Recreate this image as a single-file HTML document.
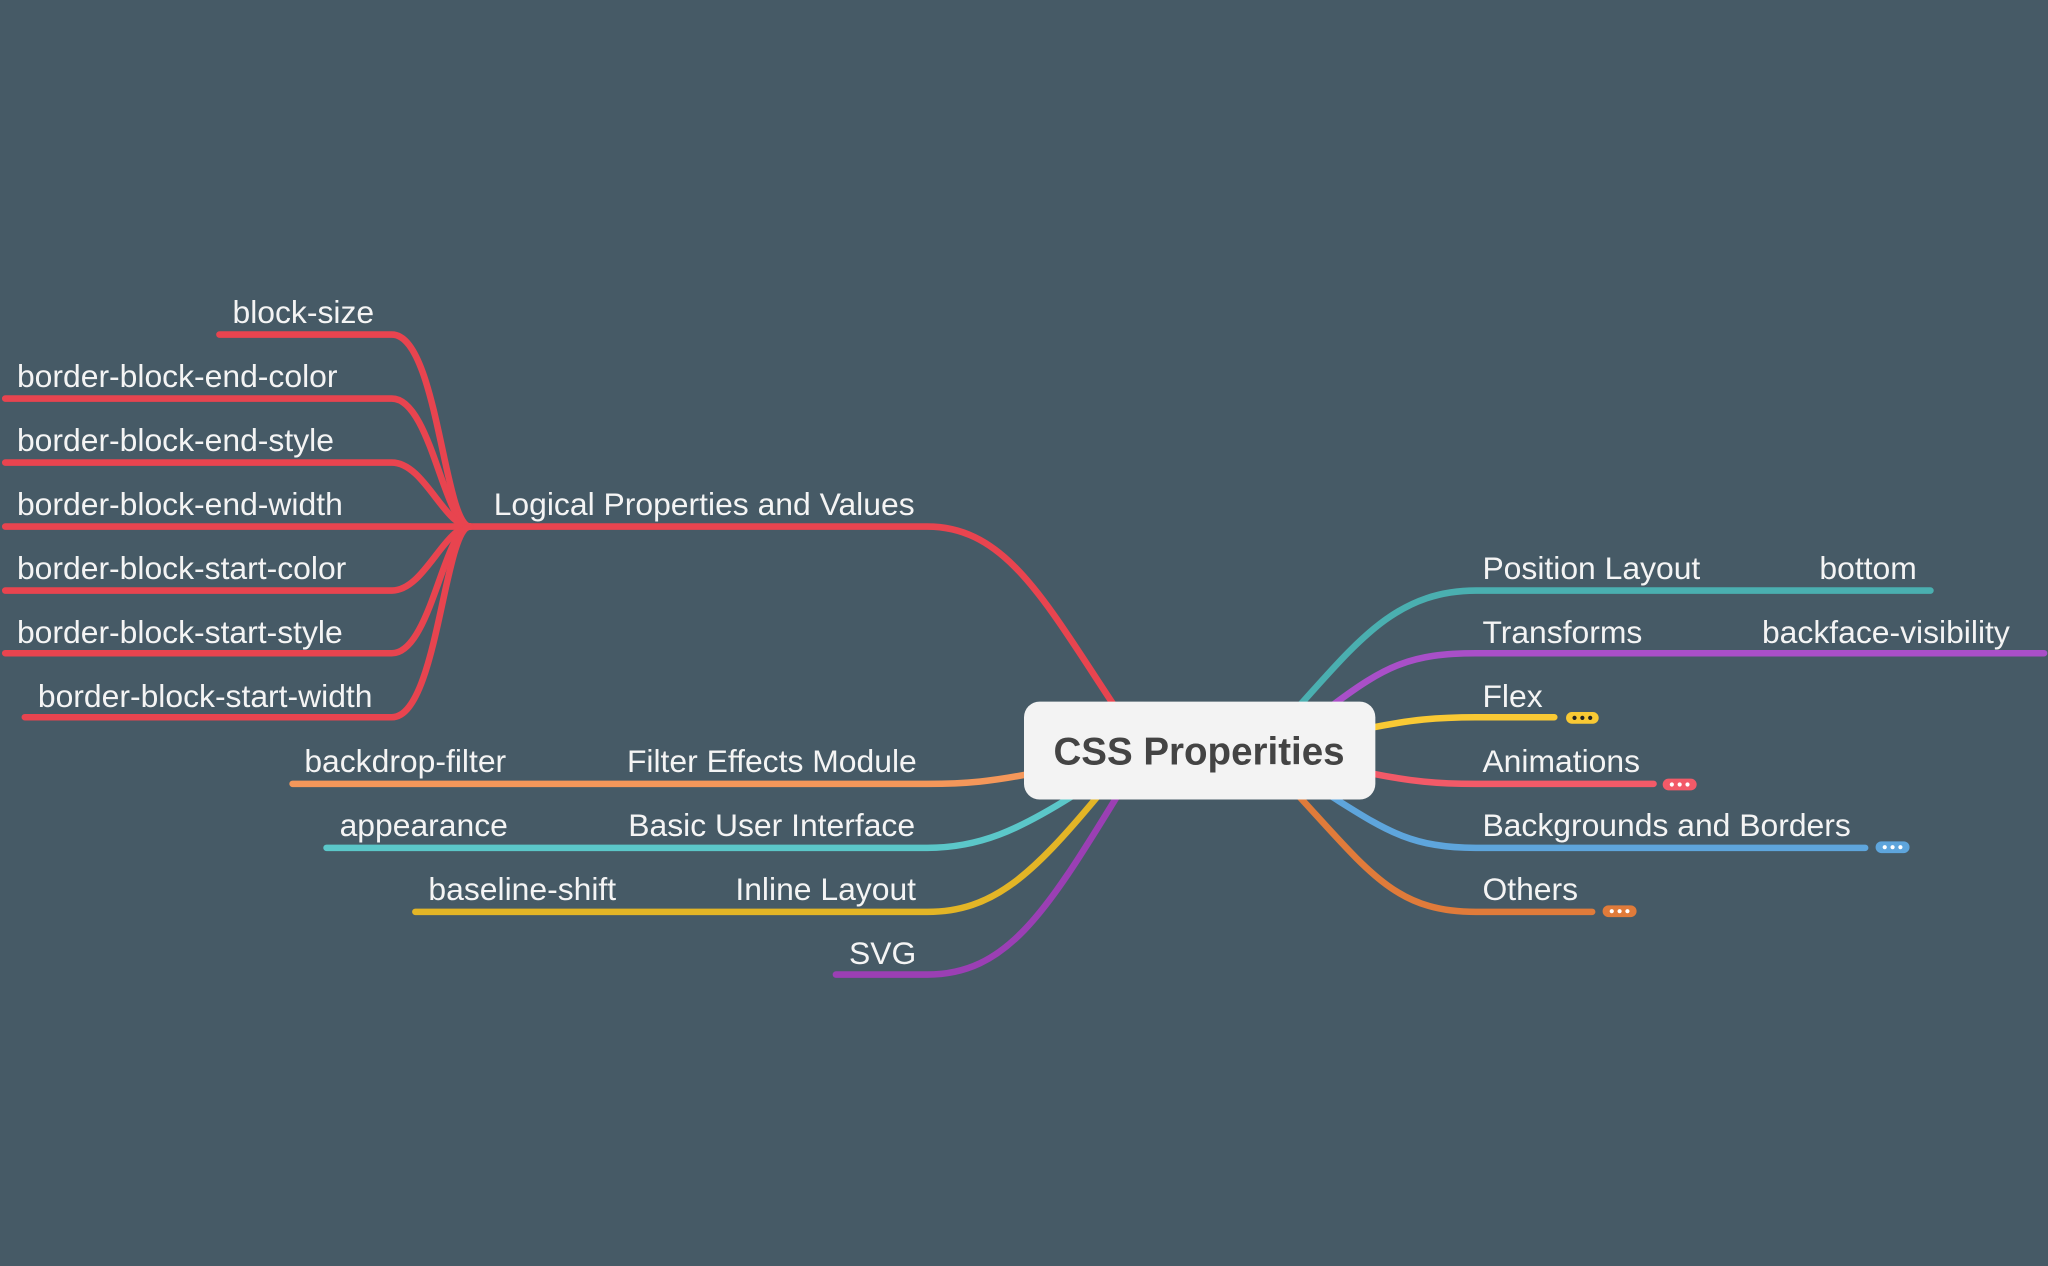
<!DOCTYPE html>
<html><head><meta charset="utf-8"><style>
html,body{margin:0;padding:0;background:#465a66;}
svg{display:block}
text{font-family:"Liberation Sans",Arial,sans-serif;fill:#f4f4f4;font-size:24.4px}
path{fill:none;stroke-width:5;stroke-linecap:round}
</style></head><body>
<svg width="2048" height="1266" viewBox="0 0 1568 969" xmlns="http://www.w3.org/2000/svg">
<rect width="1568" height="969" fill="#465a66"/>
<g stroke="#e8444f">
<path d="M853 540 C 800 460, 770 403, 710 403 L 360 403"/>
<path d="M300 256 C 335 256, 340 403, 360 403 M300 256 L168 256"/>
<path d="M300 305 C 330 305, 340 403, 360 403 M300 305 L4 305"/>
<path d="M300 354 C 325 354, 340 403, 360 403 M300 354 L4 354"/>
<path d="M360 403 L4 403"/>
<path d="M300 452 C 325 452, 340 403, 360 403 M300 452 L4 452"/>
<path d="M300 500 C 330 500, 340 403, 360 403 M300 500 L4 500"/>
<path d="M300 549 C 335 549, 340 403, 360 403 M300 549 L19 549"/>
</g>
<path stroke="#f4975a" d="M790 592 C 760 598, 740 600, 710 600 L224 600"/>
<path stroke="#5bc7c9" d="M820 610 C 780 635, 750 649, 710 649 L250 649"/>
<path stroke="#e3b526" d="M840 610 C 790 670, 760 698, 710 698 L318 698"/>
<path stroke="#9b3fb4" d="M855 610 C 800 700, 770 746, 710 746 L640 746"/>
<path stroke="#4aafb0" d="M995 540 C 1040 490, 1070 452, 1130 452 L1478 452"/>
<path stroke="#a94fc8" d="M1020 540 C 1060 510, 1080 500, 1130 500 L1565 500"/>
<path stroke="#f9c934" d="M1050 557 C 1080 551, 1100 549, 1130 549 L1190 549"/>
<path stroke="#f25a68" d="M1050 592 C 1080 598, 1100 600, 1130 600 L1266 600"/>
<path stroke="#5ea5dc" d="M1020 610 C 1060 635, 1080 649, 1130 649 L1428 649"/>
<path stroke="#e07b3a" d="M995 610 C 1050 670, 1070 698, 1130 698 L1219 698"/>
<rect x="1199" y="545" width="25" height="9" rx="4.5" fill="#f9c934"/>
<g fill="#222"><circle cx="1205.5" cy="549.5" r="1.6"/><circle cx="1211.5" cy="549.5" r="1.6"/><circle cx="1217.5" cy="549.5" r="1.6"/></g>
<rect x="1273" y="596" width="26" height="9" rx="4.5" fill="#f25a68"/>
<g fill="#fff"><circle cx="1280" cy="600.5" r="1.6"/><circle cx="1286" cy="600.5" r="1.6"/><circle cx="1292" cy="600.5" r="1.6"/></g>
<rect x="1436" y="644" width="26" height="9" rx="4.5" fill="#5ea5dc"/>
<g fill="#fff"><circle cx="1443" cy="648.5" r="1.6"/><circle cx="1449" cy="648.5" r="1.6"/><circle cx="1455" cy="648.5" r="1.6"/></g>
<rect x="1227" y="693" width="26" height="9" rx="4.5" fill="#e07b3a"/>
<g fill="#fff"><circle cx="1234" cy="697.5" r="1.6"/><circle cx="1240" cy="697.5" r="1.6"/><circle cx="1246" cy="697.5" r="1.6"/></g>
<rect x="784" y="537" width="269" height="75" rx="12" fill="#f3f3f3"/>
<text x="918" y="585" text-anchor="middle" style="fill:#444;font-size:29.5px;font-weight:bold">CSS Properities</text>
<text x="178" y="247">block-size</text>
<text x="13" y="296">border-block-end-color</text>
<text x="13" y="345">border-block-end-style</text>
<text x="13" y="394">border-block-end-width</text>
<text x="13" y="443">border-block-start-color</text>
<text x="13" y="492">border-block-start-style</text>
<text x="29" y="541">border-block-start-width</text>
<text x="378" y="394">Logical Properties and Values</text>
<text x="233" y="591">backdrop-filter</text>
<text x="480" y="591">Filter Effects Module</text>
<text x="260" y="640">appearance</text>
<text x="481" y="640">Basic User Interface</text>
<text x="328" y="689">baseline-shift</text>
<text x="563" y="689">Inline Layout</text>
<text x="650" y="738">SVG</text>
<text x="1135" y="443">Position Layout</text>
<text x="1393" y="443">bottom</text>
<text x="1135" y="492">Transforms</text>
<text x="1349" y="492">backface-visibility</text>
<text x="1135" y="541">Flex</text>
<text x="1135" y="591">Animations</text>
<text x="1135" y="640">Backgrounds and Borders</text>
<text x="1135" y="689">Others</text>
</svg>
</body></html>
